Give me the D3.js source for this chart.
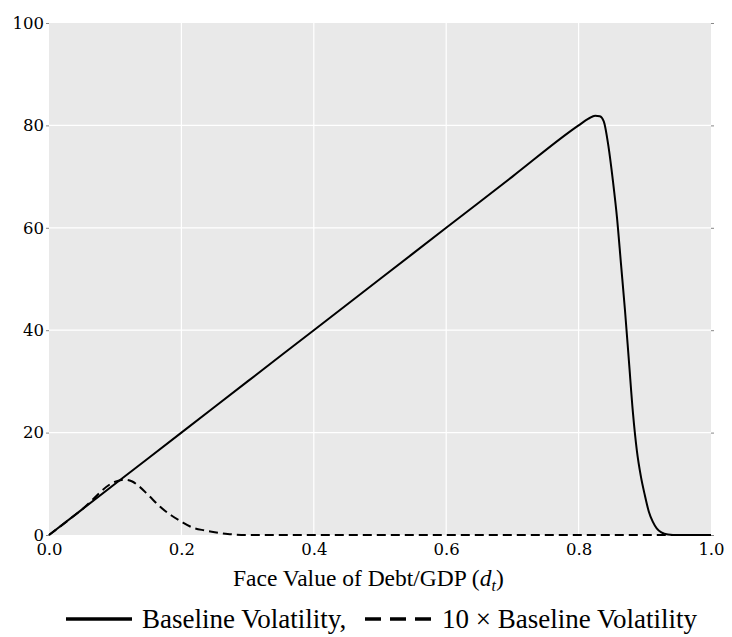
<!DOCTYPE html>
<html>
<head>
<meta charset="utf-8">
<script src="https://cdn.jsdelivr.net/npm/d3@7"></script>
<style>
  body { margin: 0; background: #fff; }
  .lbl { font-family: "Liberation Serif", "Times New Roman", serif; fill: #000; }
</style>
</head>
<body>
<svg class="chart"></svg>
<script>
// Face value of debt/GDP and the values
var baseX = [0, 0.1, 0.2, 0.3, 0.4, 0.5, 0.6, 0.7, 0.8, 0.815, 0.825, 0.832, 0.838,
  0.845, 0.852, 0.858, 0.864, 0.87, 0.876, 0.882, 0.888, 0.894, 0.9, 0.906, 0.912,
  0.918, 0.925, 0.935, 0.95, 1.0];
var baseY = [0, 10, 20, 30, 40, 50, 60, 70, 80, 81.3, 81.9, 81.8, 80.8,
  76, 69, 62, 53, 44, 34, 24, 16.5, 11.5, 7.8, 4.6, 2.6,
  1.3, 0.5, 0.1, 0, 0];

var highX = [0, 0.05, 0.1, 0.115, 0.125, 0.137, 0.15, 0.168, 0.185, 0.2, 0.218,
  0.235, 0.248, 0.27, 0.3, 0.4, 0.6, 0.8, 1.0];
var highY = [0, 5, 10.4, 10.8, 10.5, 9.4, 7.8, 5.5, 3.8, 2.6, 1.4,
  0.9, 0.6, 0.2, 0, 0, 0, 0, 0];

var xTicks = [0, 0.2, 0.4, 0.6, 0.8, 1.0];
var yTicks = [0, 20, 40, 60, 80, 100];
var seriesNames = ['Baseline Volatility,', '10 \u00d7 Baseline Volatility'];

var width = 732, height = 637;
var mLeft = 49, mRight = 711, mTop = 23, mBottom = 535;

var x = d3.scaleLinear().domain([0, 1]).range([mLeft, mRight]);
var y = d3.scaleLinear().domain([0, 100]).range([mBottom, mTop]);

var chart = d3.select('.chart').attr('width', width).attr('height', height);

chart.append('rect')
    .attr('x', mLeft).attr('y', mTop)
    .attr('width', mRight - mLeft).attr('height', mBottom - mTop)
    .attr('fill', '#e9e9e9');

// grid lines
chart.append('g').selectAll('line')
    .data(xTicks.filter(d => d > 0 && d < 1))
    .join('line')
    .attr('x1', d => x(d)).attr('x2', d => x(d))
    .attr('y1', mTop).attr('y2', mBottom)
    .attr('stroke', '#fff').attr('stroke-width', 1.2);
chart.append('g').selectAll('line')
    .data(yTicks.filter(d => d > 0 && d < 100))
    .join('line')
    .attr('x1', mLeft).attr('x2', mRight)
    .attr('y1', d => y(d)).attr('y2', d => y(d))
    .attr('stroke', '#fff').attr('stroke-width', 1.2);

var xAxis = d3.axisBottom(x).tickValues(xTicks).tickFormat(d3.format('.1f'))
    .tickSize(0).tickPadding(8);
var yAxis = d3.axisLeft(y).tickValues(yTicks).tickFormat(d3.format('d'))
    .tickSize(3).tickPadding(2);
var yAxisR = d3.axisRight(y).tickValues(yTicks).tickFormat('').tickSize(3);

var styleAxis = function(g) {
  g.attr('font-family', '"DejaVu Serif", serif').attr('font-size', 16.5);
  g.select('.domain').remove();
  g.selectAll('text').attr('fill', '#000');
  g.selectAll('line').attr('stroke', '#888');
};

chart.append('g').attr('transform', 'translate(0,' + mBottom + ')')
    .call(xAxis).call(styleAxis);
chart.append('g').attr('transform', 'translate(' + mLeft + ',0)')
    .call(yAxis).call(styleAxis);
chart.append('g').attr('transform', 'translate(' + mRight + ',0)')
    .call(yAxisR).call(styleAxis);

var line = d3.line().x(d => x(d[0])).y(d => y(d[1])).curve(d3.curveMonotoneX);

chart.append('path')
    .datum(d3.zip(highX, highY))
    .attr('d', line)
    .attr('fill', 'none').attr('stroke', '#000').attr('stroke-width', 2)
    .attr('stroke-dasharray', '9,5');

chart.append('path')
    .datum(d3.zip(baseX, baseY))
    .attr('d', line)
    .attr('fill', 'none').attr('stroke', '#000').attr('stroke-width', 2);

// axis label
var xl = chart.append('text').attr('class', 'lbl')
    .attr('x', 233).attr('y', 586).attr('font-size', 23.5);
xl.append('tspan').text('Face Value of Debt/GDP (');
xl.append('tspan').attr('font-style', 'italic').text('d');
xl.append('tspan').attr('font-style', 'italic').attr('font-size', 16).attr('dy', 5).text('t');
xl.append('tspan').attr('dy', -5).text(')');

// legend
var lg = chart.append('g');
lg.append('line').attr('x1', 66).attr('x2', 132).attr('y1', 619).attr('y2', 619)
    .attr('stroke', '#000').attr('stroke-width', 3.5);
lg.append('text').attr('class', 'lbl').attr('x', 142).attr('y', 628)
    .attr('font-size', 27).text(seriesNames[0]);
lg.append('line').attr('x1', 365).attr('x2', 431).attr('y1', 619).attr('y2', 619)
    .attr('stroke', '#000').attr('stroke-width', 3.5).attr('stroke-dasharray', '16,9');
lg.append('text').attr('class', 'lbl').attr('x', 442).attr('y', 628)
    .attr('font-size', 27).text(seriesNames[1]);
</script>
</body>
</html>
